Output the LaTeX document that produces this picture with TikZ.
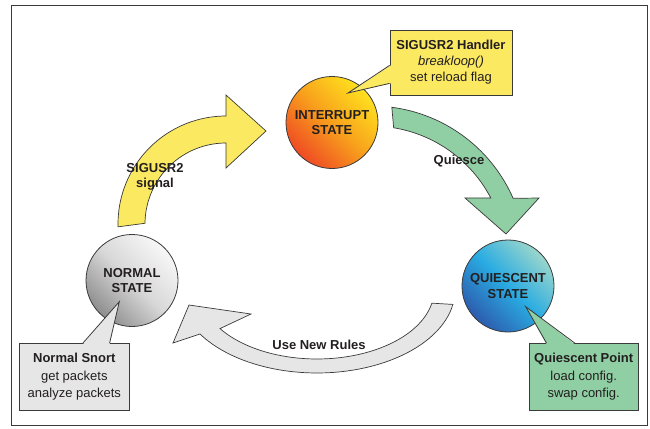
\documentclass[tikz,border=0pt]{standalone}
\usepackage{fontspec}
\setmainfont{Liberation Sans}
\usepackage{tikz}
\usetikzlibrary{calc,shadings}
\definecolor{ink}{HTML}{231F20}
\definecolor{rim}{HTML}{3A3A3A}
\definecolor{sigyel}{HTML}{FBE962}
\definecolor{quigrn}{HTML}{8FCFA3}
\definecolor{rulgry}{HTML}{E6E6E6}
\definecolor{intred}{HTML}{EF4B24}
\definecolor{intorg}{HTML}{F8A01C}
\definecolor{intyel}{HTML}{FFE11E}
\definecolor{quiblu}{HTML}{2D5CAE}
\definecolor{quicyn}{HTML}{29ABE2}
\definecolor{quitea}{HTML}{9AD6CB}
\definecolor{normdk}{HTML}{8E8E8E}
\definecolor{normmd}{HTML}{D8D8D8}
\definecolor{normlt}{HTML}{F7F7F7}
\tikzset{
  statenode/.style={circle, draw=rim, line width=0.8pt, minimum size=92pt, inner sep=0pt,
              align=center, text=ink, font=\fontsize{13}{15.7}\selectfont\bfseries},
  intstate/.style={statenode, bottom color=intred, top color=intyel, middle color=intorg, shading angle=-45},
  normstate/.style={statenode, bottom color=normdk, top color=normlt, middle color=normmd, shading angle=-45},
  quistate/.style={statenode, bottom color=quiblu, top color=quitea, middle color=quicyn, shading angle=-45},
  notebox/.style={rectangle, draw=rim, line width=0.8pt, align=center, text=ink, inner sep=2pt,
              font=\fontsize{13}{17.5}\selectfont, minimum height=67pt},
  bandlbl/.style={font=\fontsize{13}{15.5}\selectfont\bfseries, text=ink, align=center},
  bandarrow/.style={draw=rim, line width=0.7pt, line join=miter},
  tailline/.style={draw=rim, line width=0.8pt}
}
\begin{document}
\begin{tikzpicture}[x=1pt, y=-1pt]
 \useasboundingbox (0,0) rectangle (650,428);
 \draw[rim, line width=1pt] (11,6) rectangle (647,425);
 % block arrows round the cycle
 \draw[bandarrow, fill=sigyel] plot[domain=178.5:270, samples=40] ({226+108*cos(\x)},{224+108*sin(\x)})
   -- (226,95) -- (266,131) -- (226,168) -- (226,143)
   -- plot[domain=270:180.5, samples=40] ({226+81*cos(\x)},{224+81*sin(\x)}) -- cycle;
 \draw[bandarrow, fill=quigrn] plot[domain=-82.6:-23.6, samples=40] ({372+154*cos(\x)},{260+154*sin(\x)})
   -- (539,198) -- (506,234) -- (465,198)
   -- plot[domain=-27.6:-80.7, samples=40] ({372+134*cos(\x)},{260+134*sin(\x)}) -- cycle;
 \draw[bandarrow, fill=rulgry] plot[domain=10:148, samples=50] ({317+138*cos(\x)},{290+83*sin(\x)})
   -- (173,343) -- (189,305) -- (251,314)
   -- plot[domain=146:11, samples=50] ({317+117*cos(\x)},{290+69*sin(\x)}) -- cycle;
 % states
 \node[intstate] (intr) at (332,122.5) {INTERRUPT\\STATE};
 \node[normstate] (norm) at (132,280.5) {NORMAL\\STATE};
 \node[quistate] (quie) at (508,286) {QUIESCENT\\STATE};
 % call-outs
 \node[notebox, fill=sigyel, minimum width=122pt, minimum height=65pt, font=\fontsize{13}{16}\selectfont] (hndl) at (451,62.5)
   {\textbf{SIGUSR2 Handler}\\\textit{breakloop()}\\set reload flag};
 \node[notebox, fill=rulgry, minimum width=110pt] (snort) at (74.3,377) {\textbf{Normal Snort}\\get packets\\analyze packets};
 \node[notebox, fill=quigrn, minimum width=109pt] (qpt) at (583.7,377) {\textbf{Quiescent Point}\\load config.\\swap config.};
 \coordinate (hndltip) at (348,93);
 \coordinate (snorttip) at (119.3,301.7);
 \coordinate (qpttip) at (525.7,306.7);
 \fill[sigyel] ($(hndl.south west)+(1.2,-12)$) -- (hndltip) -- ($(hndl.south west)+(1.2,-30)$) -- cycle;
 \draw[tailline] ($(hndl.south west)+(0,-12)$) -- (hndltip) -- ($(hndl.south west)+(0,-30)$);
 \fill[rulgry] ($(snort.north west)+(64,1.2)$) -- (snorttip) -- ($(snort.north west)+(90.7,1.2)$) -- cycle;
 \draw[tailline] ($(snort.north west)+(64,0)$) -- (snorttip) -- ($(snort.north west)+(90.7,0)$);
 \fill[quigrn] ($(qpt.north west)+(17.7,1.2)$) -- (qpttip) -- ($(qpt.north west)+(46,1.2)$) -- cycle;
 \draw[tailline] ($(qpt.north west)+(17.7,0)$) -- (qpttip) -- ($(qpt.north west)+(46,0)$);
 % labels
 \node[bandlbl] (siglbl) at (155,177) {SIGUSR2\\signal};
 \node[bandlbl] (quilbl) at (459,161) {Quiesce};
 \node[bandlbl] (rulelbl) at (319,345) {Use New Rules};
\end{tikzpicture}
\end{document}
